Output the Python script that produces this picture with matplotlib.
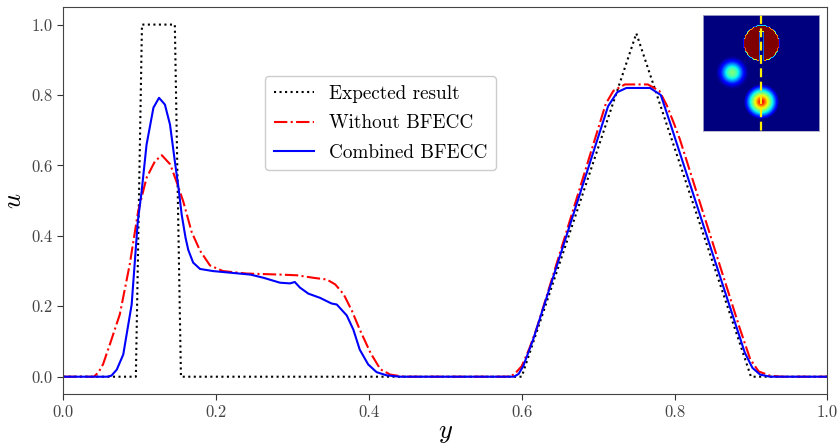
import numpy as np
import matplotlib
matplotlib.use("Agg")
import matplotlib.pyplot as plt

plt.rcParams['font.family'] = ['cmr10', 'DejaVu Serif']
plt.rcParams['mathtext.fontset'] = 'cm'
plt.rcParams['axes.formatter.use_mathtext'] = True

# ---- data ----
expected_x = [0.0, 0.095, 0.103, 0.146, 0.154, 0.600, 0.750, 0.900, 1.0]
expected_u = [0.0, 0.0, 1.0, 1.0, 0.0, 0.0, 0.975, 0.0, 0.0]

without_x = [0.0, 0.040, 0.046, 0.052, 0.061, 0.074, 0.087, 0.098, 0.109, 0.120,
             0.129, 0.140, 0.148, 0.157, 0.168, 0.179, 0.192, 0.209, 0.240, 0.284,
             0.306, 0.327, 0.345, 0.356, 0.367, 0.378, 0.388, 0.402, 0.415, 0.428,
             0.446, 0.580, 0.590, 0.600, 0.610, 0.620, 0.710, 0.720, 0.735, 0.765,
             0.780, 0.790, 0.800, 0.807, 0.885, 0.899, 0.910, 0.925, 0.940, 1.0]
without_u = [0.0, 0.0, 0.012, 0.035, 0.092, 0.177, 0.319, 0.470, 0.565, 0.612,
             0.629, 0.603, 0.555, 0.498, 0.411, 0.358, 0.316, 0.300, 0.293, 0.290,
             0.288, 0.281, 0.276, 0.262, 0.234, 0.186, 0.134, 0.068, 0.021, 0.006,
             0.0, 0.0, 0.006, 0.030, 0.080, 0.140, 0.775, 0.812, 0.830, 0.830,
             0.812, 0.770, 0.715, 0.674, 0.140, 0.050, 0.015, 0.003, 0.0, 0.0]

combined_x = [0.0, 0.058, 0.063, 0.070, 0.0785, 0.0895, 0.0975, 0.1026, 0.109, 0.118,
              0.1253, 0.133, 0.1397, 0.146, 0.1506, 0.155, 0.160, 0.1636, 0.170, 0.179,
              0.196, 0.245, 0.262, 0.2836, 0.2967, 0.303, 0.3098, 0.3207, 0.336, 0.351,
              0.358, 0.371, 0.3796, 0.388, 0.399, 0.410, 0.423, 0.440, 0.590, 0.596,
              0.602, 0.615, 0.713, 0.725, 0.737, 0.768, 0.782, 0.794, 0.807, 0.892,
              0.902, 0.912, 0.925, 1.0]
combined_u = [0.0, 0.0, 0.003, 0.020, 0.063, 0.205, 0.440, 0.527, 0.659, 0.764,
              0.792, 0.773, 0.716, 0.612, 0.540, 0.460, 0.395, 0.360, 0.324, 0.306,
              0.300, 0.290, 0.281, 0.267, 0.265, 0.269, 0.253, 0.236, 0.224, 0.208,
              0.205, 0.174, 0.134, 0.077, 0.035, 0.013, 0.004, 0.0, 0.0, 0.008,
              0.030, 0.106, 0.768, 0.808, 0.820, 0.820, 0.800, 0.722, 0.635, 0.068,
              0.025, 0.006, 0.0, 0.0]

ticks = [0.0, 0.2, 0.4, 0.6, 0.8, 1.0]
tick_labels = ["0.0", "0.2", "0.4", "0.6", "0.8", "1.0"]

# inset field parameters (Zalesak-type test)
disk_c, disk_r, slot_w, slot_top = (0.5, 0.25), 0.15, 0.045, 0.155
hump_c, hump_r = (0.25, 0.5), 0.15
cone_c, cone_r = (0.5, 0.75), 0.15
slice_x = 0.5

# ---- figure ----
fig = plt.figure(figsize=(8.38, 4.45), dpi=100)
ax = fig.add_axes([0.0755, 0.1139, 0.9118, 0.8704])

ax.plot(expected_x, expected_u, color='k', ls=':', lw=1.5, label='Expected result')
ax.plot(without_x, without_u, color='r', ls='-.', lw=1.5, label='Without BFECC')
ax.plot(combined_x, combined_u, color='b', ls='-', lw=1.5, label='Combined BFECC')

ax.set_xlim(0, 1)
ax.set_ylim(-0.05, 1.05)
ax.set_xticks(ticks)
ax.set_xticklabels(tick_labels)
ax.set_yticks(ticks)
ax.set_yticklabels(tick_labels)
ax.tick_params(labelsize=12, direction='out', length=4, colors='#333333', labelcolor='#444444')
for s in ax.spines.values():
    s.set_color('#444444')
ax.set_xlabel('$y$', fontsize=19, labelpad=1)
ax.set_ylabel('$u$', fontsize=19, labelpad=4)

ax.legend(loc='upper left', bbox_to_anchor=(0.2515, 0.846), fontsize=13.8,
          frameon=True, fancybox=True, framealpha=1.0, edgecolor='#cccccc',
          handlelength=2.1, labelspacing=0.6, borderpad=0.45)

# ---- inset ----
N = 100
g = (np.arange(N) + 0.5) / N
X, R = np.meshgrid(g, g)  # R: row coordinate measured from top
field = np.zeros((N, N))
rd = np.hypot(X - disk_c[0], R - disk_c[1])
disk = (rd <= disk_r) & ~((np.abs(X - disk_c[0]) <= slot_w / 2) & (R >= slot_top))
field[disk] = 1.0
rh = np.hypot(X - hump_c[0], R - hump_c[1]) / hump_r
field = np.where(rh < 1, 0.25 * (1 + np.cos(np.pi * rh)), field)
rc = np.hypot(X - cone_c[0], R - cone_c[1]) / cone_r
field = np.where(rc < 1, 1 - rc, field)

iax = fig.add_axes([0.8385, 0.7045, 0.1391, 0.2610])
iax.imshow(field, cmap='jet', vmin=0, vmax=1, extent=[0, 1, 1, 0],
           interpolation='bilinear', interpolation_stage='data', aspect='auto')
iax.plot([slice_x, slice_x], [0, 1], color='#ffee00', ls=(0, (4, 2)), lw=1.6)
iax.set_xlim(0, 1)
iax.set_ylim(1, 0)
iax.set_xticks([])
iax.set_yticks([])
for s in iax.spines.values():
    s.set_color('#b0b0c8')
    s.set_linewidth(0.6)

fig.savefig('out.png', dpi=100)
